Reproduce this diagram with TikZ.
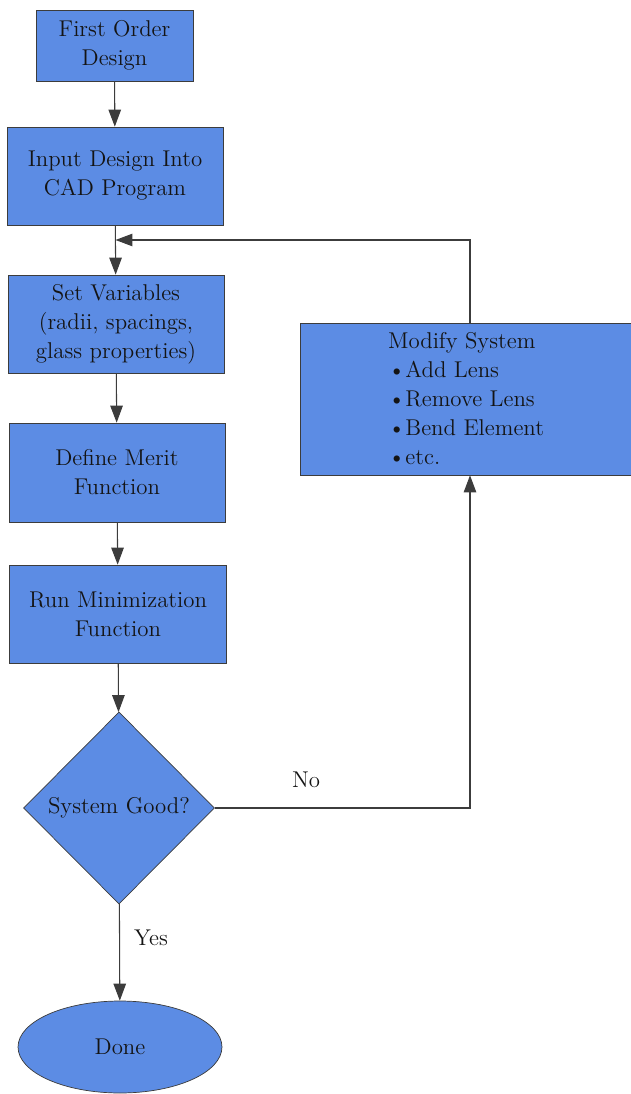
\documentclass[tikz,border=0pt]{standalone}
\usepackage{xcolor}
\definecolor{boxblue}{RGB}{92,140,228}
\definecolor{lineGray}{RGB}{60,60,60}
\usetikzlibrary{shapes,shapes.geometric,arrows.meta,calc}

\begin{document}
\begin{tikzpicture}[x=0.02cm,y=-0.02cm,
  box/.style={draw=lineGray,fill=boxblue,text=black!92,align=center,
    font=\fontsize{13}{16.5}\selectfont,inner sep=2pt},
  flow/.style={draw=lineGray,line width=0.6pt,-{Triangle[length=0.34cm,width=0.25cm]}},
  lbl/.style={font=\fontsize{13}{16.5}\selectfont,text=black!92}]
\useasboundingbox (0,0) rectangle (631,1094);
\node[box,minimum width=3.14cm,minimum height=1.42cm] (first) at (114.5,45.5) {First Order\\Design};
\node[box,minimum width=4.32cm,minimum height=1.96cm] (cad) at (115,176) {Input Design Into\\CAD Program};
\node[box,minimum width=4.32cm,minimum height=1.96cm] (setvar) at (116,324) {Set Variables\\(radii, spacings,\\glass properties)};
\node[box,minimum width=4.32cm,minimum height=1.98cm] (merit) at (117,472.5) {Define Merit\\Function};
\node[box,minimum width=4.34cm,minimum height=1.96cm] (minim) at (118,614) {Run Minimization\\Function};
\node[box,diamond,aspect=1,inner sep=0pt,minimum width=3.82cm,minimum height=3.84cm] (good) at (119,808) {System Good?};
\node[box,ellipse,minimum width=4.08cm,minimum height=1.84cm] (done) at (120,1047) {Done};
\node[box,align=left,minimum width=6.64cm,minimum height=3.04cm] (modify) at (466,399)
  {Modify System\\\textbullet Add Lens\\\textbullet Remove Lens\\\textbullet Bend Element\\\textbullet etc.};
% return path
\coordinate (turn) at (470,240);
\coordinate (join) at ($(cad.south)!0.5!(setvar.north)$);
\draw[flow] (first) -- (cad);
\draw[flow] (cad) -- (setvar);
\draw[flow] (setvar) -- (merit);
\draw[flow] (merit) -- (minim);
\draw[flow] (minim) -- (good);
\draw[flow] (good) -- (done);
\draw[flow] (good.east) -| (modify.south -| turn);
\draw[flow] (modify.north -| turn) -- (turn) -- (join |- turn);
\node[lbl] (no) at (306,780) {No};
\node[lbl] (yes) at (151,938) {Yes};
\end{tikzpicture}
\end{document}
